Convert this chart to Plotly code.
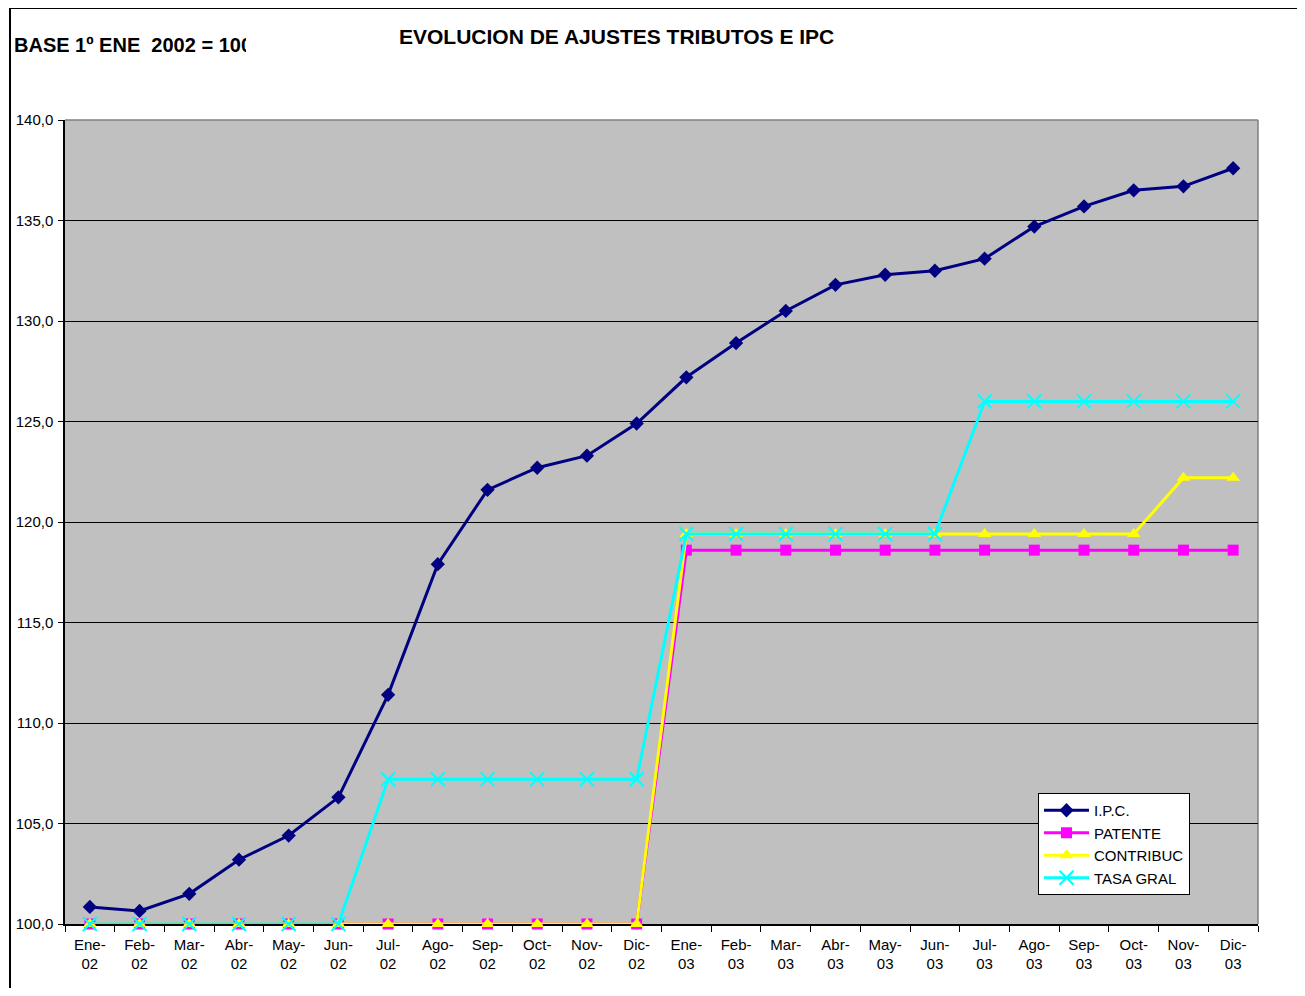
import plotly.graph_objects as go

months = ["Ene-", "Feb-", "Mar-", "Abr-", "May-", "Jun-", "Jul-", "Ago-", "Sep-", "Oct-", "Nov-", "Dic-"]
categories = [m + "<br>02" for m in months] + [m + "<br>03" for m in months]

ipc = [100.85, 100.65, 101.5, 103.2, 104.4, 106.3, 111.4, 117.9, 121.6, 122.7, 123.3, 124.9,
       127.2, 128.9, 130.5, 131.8, 132.3, 132.5, 133.1, 134.7, 135.7, 136.5, 136.7, 137.6]
patente = [100.0] * 12 + [118.6] * 12
contribuc = [100.0] * 12 + [119.4] * 10 + [122.2] * 2
tasa_gral = [100.0] * 6 + [107.2] * 6 + [119.4] * 6 + [126.0] * 6

OFF = 8  # page body margin
W, H = 1305 - OFF, 996 - 2 * OFF
# target plot area in page pixels
L, R, T, B = 65, 1258, 120, 924


def px_x(p):
    return (p - L) / (R - L)


def px_y(p):
    return (B - p) / (B - T)


FONT = "Liberation Sans, Arial, sans-serif"

fig = go.Figure()
fig.add_trace(go.Scatter(x=categories, y=ipc, name="I.P.C.", mode="lines+markers",
                         line=dict(color="#000080", width=3),
                         marker=dict(symbol="diamond", size=11, color="#000080"),
                         cliponaxis=False))
fig.add_trace(go.Scatter(x=categories, y=patente, name="PATENTE", mode="lines+markers",
                         line=dict(color="#FF00FF", width=3),
                         marker=dict(symbol="square", size=11, color="#FF00FF"),
                         cliponaxis=False))
fig.add_trace(go.Scatter(x=categories, y=contribuc, name="CONTRIBUC", mode="lines+markers",
                         line=dict(color="#FFFF00", width=3),
                         marker=dict(symbol="triangle-up", size=12, color="#FFFF00"),
                         cliponaxis=False))
fig.add_trace(go.Scatter(x=categories, y=tasa_gral, name="TASA GRAL", mode="lines+markers",
                         line=dict(color="#00FFFF", width=3),
                         marker=dict(symbol="x-thin", size=14, color="#00FFFF",
                                     line=dict(color="#00FFFF", width=2)),
                         cliponaxis=False))

border = dict(color="black", width=2)
fig.update_layout(
    width=W, height=H,
    margin=dict(l=L - OFF, r=(W + OFF) - R, t=T - OFF, b=(H + OFF) - B, pad=0),
    paper_bgcolor="white",
    plot_bgcolor="#C0C0C0",
    separators=",.",
    font=dict(family=FONT, size=14, color="black"),
    showlegend=True,
    legend=dict(x=px_x(1038), y=px_y(793), xanchor="left", yanchor="top",
                bgcolor="white", bordercolor="black", borderwidth=1,
                font=dict(family=FONT, size=15, color="black"),
                tracegroupgap=0, itemwidth=45),
    xaxis=dict(type="category", range=[-0.5, 23.5], showgrid=False,
               showline=True, linecolor="black", linewidth=1.5,
               ticks="outside", tickson="boundaries", ticklen=6, tickcolor="black",
               tickfont=dict(family=FONT, size=15, color="black"),
               ticklabelstandoff=6, automargin=False,
               layer="below traces", fixedrange=True),
    yaxis=dict(range=[100, 140], dtick=5, tickformat=".1f",
               showgrid=True, gridcolor="black", gridwidth=1,
               showline=True, linecolor="black", linewidth=1.5,
               ticks="outside", ticklen=5, tickcolor="black",
               tickfont=dict(family=FONT, size=15, color="black"),
               ticklabelstandoff=2, automargin=False,
               zeroline=False, layer="below traces", fixedrange=True),
    shapes=[
        # outer chart border (top, left, right)
        dict(type="line", xref="paper", yref="paper",
             x0=px_x(10), x1=px_x(1298), y0=px_y(8), y1=px_y(8),
             line=border, layer="above"),
        dict(type="line", xref="paper", yref="paper",
             x0=px_x(10), x1=px_x(10), y0=px_y(8), y1=px_y(H + OFF),
             line=border, layer="above"),
        dict(type="line", xref="paper", yref="paper",
             x0=px_x(1298), x1=px_x(1298), y0=px_y(8), y1=px_y(H + OFF),
             line=dict(color="#404040", width=2), layer="above"),
        # plot area top and right edges
        dict(type="line", xref="paper", yref="paper", x0=0, x1=1, y0=1, y1=1,
             line=dict(color="#808080", width=1.5), layer="below"),
        dict(type="line", xref="paper", yref="paper", x0=1, x1=1, y0=0, y1=1,
             line=dict(color="#808080", width=1.5), layer="below"),
    ],
    annotations=[
        dict(text="<b>EVOLUCION DE AJUSTES TRIBUTOS E IPC</b>", xref="paper", yref="paper",
             x=px_x(616), y=px_y(37), xanchor="center", yanchor="middle", showarrow=False,
             font=dict(family=FONT, size=21, color="black")),
        dict(text="<b>BASE 1º ENE&nbsp; 2002 = 100</b>", xref="paper", yref="paper",
             x=px_x(12), y=px_y(45), xanchor="left", yanchor="middle", showarrow=False,
             width=232, align="left",
             font=dict(family=FONT, size=20, color="black")),
    ],
)

fig.write_html("out.html")
